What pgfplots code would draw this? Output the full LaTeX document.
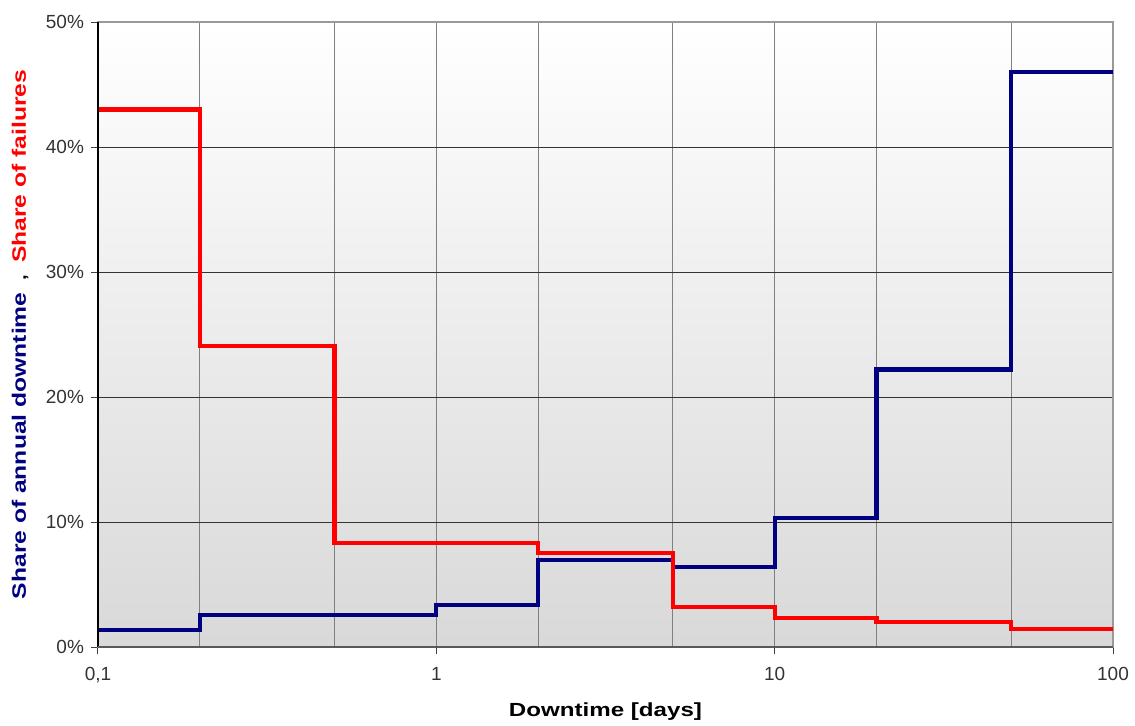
\documentclass[border=0pt]{standalone}
\usepackage{pgfplots}
\pgfplotsset{compat=1.18}
\usepackage{fontspec}
\setmainfont{Liberation Sans}
\newfontfamily\labelfont[FakeStretch=1.27]{Liberation Sans}
\definecolor{downtime}{HTML}{000080}
\definecolor{failures}{HTML}{FF0000}
\begin{document}
\begin{tikzpicture}
\begin{axis}[
  name=main,
  xmode=log, log basis x=10,
  scale only axis, width=507.5pt, height=312.5pt,
  xmin=0.1, xmax=100, ymin=0, ymax=50,
  xtick={0.1,1,10,100}, xticklabels={{0,1},1,10,100},
  minor xtick={0.2,0.5,2,5,20,50},
  ytick={0,10,20,30,40,50},
  yticklabels={0\%,10\%,20\%,30\%,40\%,50\%},
  xtick pos=bottom, ytick pos=left,
  tick align=outside, major tick length=3.5pt, minor tick length=0pt,
  tick style={black!75, line width=0.5pt},
  /pgf/number format/assume math mode=true,
  tick label style={font=\fontsize{9.5}{11}\selectfont, text=black!80},
  xticklabel style={yshift=-3pt},
  xmajorgrids, xminorgrids, ymajorgrids,
  grid style={black!50, line width=0.5pt},
  y grid style={black!80, line width=0.5pt},
  axis line style={black!40, line width=0.6pt},
  axis background/.style={shade, top color=white, bottom color=black!15},
  xlabel={Downtime [days]},
  xlabel style={font=\labelfont\bfseries\fontsize{9.5}{11}\selectfont,
    at={(axis description cs:0.5,-0.104)}, anchor=center},
  ylabel={{\color{downtime}Share of annual downtime}\hspace{6pt}{\color{black}\footnotesize,}\hspace{6pt}{\color{failures}Share of failures}},
  ylabel style={font=\labelfont\bfseries\fontsize{9.7}{11}\selectfont,
    at={(axis description cs:-0.0768,0.5)}, anchor=center},
]
% share of annual downtime per downtime class
\addplot[const plot, draw=downtime, line width=2.1pt] coordinates {
  (0.1,1.37) (0.2,2.55) (1,3.35) (2,6.95) (5,6.4)
  (10,10.35) (20,22.2) (50,46.0) (100,46.0)
};
% share of failures per downtime class
\addplot[const plot, draw=failures, line width=2.1pt] coordinates {
  (0.1,43.0) (0.2,24.1) (0.5,8.35) (2,7.55) (5,3.23)
  (10,2.3) (20,2.03) (50,1.42) (100,1.42)
};
\end{axis}
% left and bottom frame lines
\draw[black, line width=0.6pt] (main.south west) -- (main.north west);
\draw[black!65, line width=0.6pt] (main.south west) -- (main.south east);
\pgfresetboundingbox
\path[use as bounding box] ([xshift=-49pt,yshift=-39pt]main.south west) rectangle ([xshift=11pt,yshift=11pt]main.north east);
\end{tikzpicture}
\end{document}
